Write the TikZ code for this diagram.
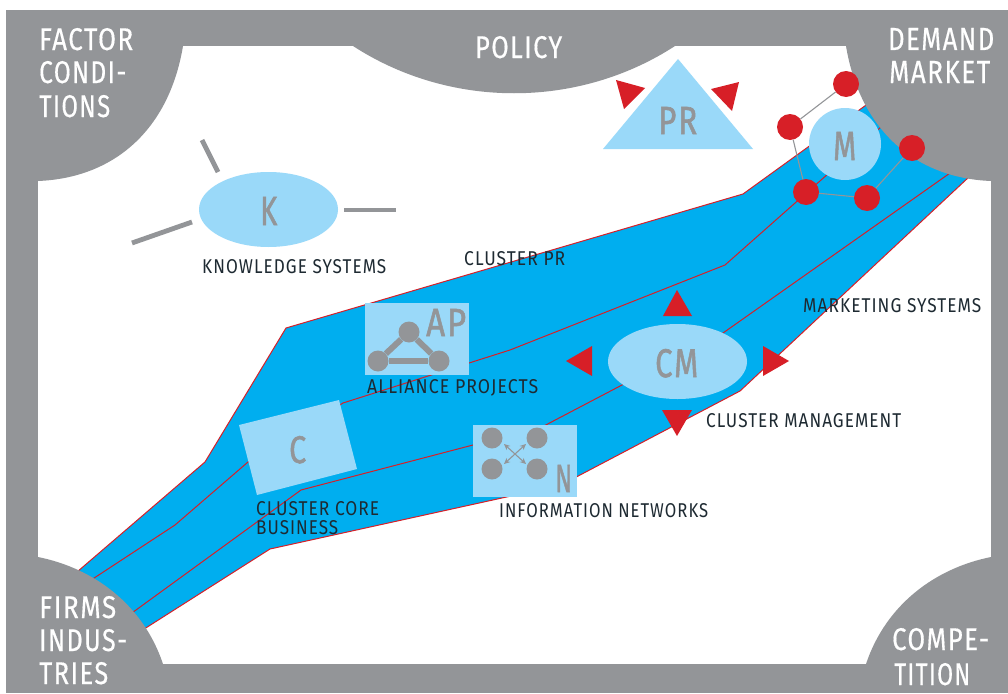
\documentclass[tikz,border=0pt]{standalone}
\usepackage{fontspec}
\usepackage{graphicx}
\setmainfont[LetterSpace=6]{Fira Sans}
\newfontfamily\medfont[LetterSpace=6,FakeBold=0.5]{Fira Sans}
\newfontfamily\heavyfont[LetterSpace=6,FakeBold=1.6]{Fira Sans}
\usetikzlibrary{arrows.meta,shapes.geometric}
\definecolor{framegray}{HTML}{939598}
\definecolor{bandblue}{HTML}{00AEEF}
\definecolor{paleblue}{HTML}{9AD9F9}
\definecolor{signalred}{HTML}{D71F27}
\definecolor{ink}{HTML}{1E2A32}
\tikzset{
  x=1pt,y=-1pt,
  lab/.style={anchor=base west,inner sep=0pt,text=ink},
  head/.style={anchor=base west,inner sep=0pt,text=white,font=\medfont},
  glyph/.style={anchor=base west,inner sep=0pt,text=framegray,font=\heavyfont},
  pale/.style={fill=paleblue,draw=none},
  redtri/.style={fill=signalred,draw=none},
  redline/.style={draw=signalred,line width=1pt,line join=round},
  dot/.style={circle,fill=signalred,draw=none,minimum size=26pt,inner sep=0pt},
  gdot/.style={circle,fill=framegray,draw=none,minimum size=21pt,inner sep=0pt},
  thinlink/.style={draw=framegray,line width=1.1pt},
  thicklink/.style={draw=framegray,line width=6pt},
  spoke/.style={draw=framegray,line width=4.8pt},
}
% width, height, text
\newcommand{\fitted}[3]{\resizebox{#1pt}{#2pt}{#3}}
\begin{document}
\begin{tikzpicture}
\useasboundingbox (0,0) rectangle (1008,693);
\fill[white] (0,0) rectangle (1008,693);
\fill[framegray] (6,10) rectangle (1008,693);
\fill[white] (38,46) rectangle (991,664);
% band
\fill[bandblue] (70,578) -- (205,462) -- (286,328) -- (743,194) -- (880,95)
  -- (985,162) -- (740,391) -- (561,485) -- (270,549) -- (130,638) -- cycle;
\draw[redline] (70,578) -- (205,462) -- (286,328) -- (743,194) -- (880,95);
\draw[redline] (985,162) -- (740,391) -- (561,485) -- (270,549) -- (130,638);
\draw[redline] (85,584) -- (175,525) -- (248,462) -- (343,403) -- (510,350) -- (725,265) -- (890,119);
\draw[redline] (125,618) -- (301,490) -- (473,445) -- (540,428) -- (622,385) -- (723,333) -- (960,166);
% corners
\fill[framegray] (30,38) -- (183,38) -- (183,46) .. controls (169,130) and (114,178) .. (38,181) -- (30,181) -- cycle;
\fill[framegray] (999,38) -- (846,38) -- (846,46) .. controls (860,130) and (915,178) .. (991,181) -- (999,181) -- cycle;
\fill[framegray] (30,672) -- (163,672) -- (163,664) .. controls (143,604) and (93,568) .. (38,557) -- (30,557) -- cycle;
\fill[framegray] (999,672) -- (866,672) -- (866,664) .. controls (886,604) and (936,568) .. (991,557) -- (999,557) -- cycle;
\fill[framegray] (353,40) -- (353,46) .. controls (450,109) and (578,109) .. (675,46) -- (675,40) -- cycle;
% K
\node[pale,ellipse,minimum width=139pt,minimum height=75pt,inner sep=0pt] (k) at (268.5,209.5) {};
\coordinate (ka1) at (202,140); \coordinate (ka2) at (218,172);
\coordinate (kb1) at (132,243); \coordinate (kb2) at (192,222);
\coordinate (kc1) at (344,210); \coordinate (kc2) at (396,210);
\draw[spoke] (ka1) -- (ka2);
\draw[spoke] (kb1) -- (kb2);
\draw[spoke] (kc1) -- (kc2);
% PR
\fill[pale] (678,59) -- (603,149) -- (753,149) -- cycle;
\fill[redtri] (616,80) -- (645,88) -- (624,109) -- cycle;
\fill[redtri] (711,89) -- (739,82) -- (732,111) -- cycle;
% C
\fill[pale] (239,425) -- (339,400) -- (357,469) -- (257,495) -- cycle;
% AP
\fill[pale] (365,303) rectangle (469,375);
\node[gdot] (ap1) at (409,332) {};
\node[gdot] (ap2) at (378,361) {};
\node[gdot] (ap3) at (439,361) {};
\draw[thicklink] (ap1) -- (ap2);
\draw[thicklink] (ap2) -- (ap3);
\draw[thicklink] (ap3) -- (ap1);
% N
\fill[pale] (473,425) rectangle (577,497);
\node[gdot] (n1) at (492,438) {};
\node[gdot] (n2) at (537,438) {};
\node[gdot] (n3) at (492,469) {};
\node[gdot] (n4) at (537,469) {};
\coordinate (na1) at (504,444); \coordinate (na2) at (526,464);
\coordinate (nb1) at (526,444); \coordinate (nb2) at (504,464);
\draw[thinlink,{Stealth[length=6pt,width=5.5pt]}-{Stealth[length=6pt,width=5.5pt]}] (na1) -- (na2);
\draw[thinlink,{Stealth[length=6pt,width=5.5pt]}-{Stealth[length=6pt,width=5.5pt]}] (nb1) -- (nb2);
% CM
\node[pale,ellipse,minimum width=139pt,minimum height=75pt,inner sep=0pt] (cm) at (677.5,361.5) {};
\fill[redtri] (677,290) -- (663,316) -- (692,316) -- cycle;
\fill[redtri] (566,361) -- (592,346) -- (592,376) -- cycle;
\fill[redtri] (789,361) -- (763,346) -- (763,376) -- cycle;
\fill[redtri] (662,410) -- (692,410) -- (677,436) -- cycle;
% M
\node[pale,circle,minimum size=72pt,inner sep=0pt] (m) at (845,144) {};
\node[dot] (r1) at (846,84) {};
\node[dot] (r2) at (790,127) {};
\node[dot] (r3) at (806,192) {};
\node[dot] (r4) at (867,198) {};
\node[dot] (r5) at (912,148) {};
\draw[thinlink] (r1) -- (r2);
\draw[thinlink] (r2) -- (r3);
\draw[thinlink] (r3) -- (r4);
\draw[thinlink] (r4) -- (r5);
% white headings
\node[head] (t1) at (39,50) {\fitted{94}{22}{FACTOR}};
\node[head] (t2) at (39,83) {\fitted{87}{22}{CONDI-}};
\node[head] (t3) at (39,117) {\fitted{71}{22}{TIONS}};
\node[head] (t4) at (888,50) {\fitted{106}{22}{DEMAND}};
\node[head] (t5) at (889,83) {\fitted{101}{22}{MARKET}};
\node[head] (t6) at (475,58) {\fitted{87}{22}{POLICY}};
\node[head] (t7) at (39,618) {\fitted{77}{22}{FIRMS}};
\node[head] (t8) at (39,651) {\fitted{88}{22}{INDUS-}};
\node[head] (t9) at (39,684) {\fitted{69}{22}{TRIES}};
\node[head] (t10) at (892,650) {\fitted{97}{22}{COMPE-}};
\node[head] (t11) at (894,685) {\fitted{76}{22}{TITION}};
% pale glyphs
\node[glyph] (g1) at (260,225) {\fitted{17}{28}{K}};
\node[glyph] (g2) at (658,134) {\fitted{39}{27}{PR}};
\node[glyph] (g3) at (289,463) {\fitted{17}{27}{C}};
\node[glyph] (g4) at (426,336) {\fitted{40}{27}{AP}};
\node[glyph] (g5) at (555,492) {\fitted{17}{27}{N}};
\node[glyph] (g6) at (655,377) {\fitted{43}{28}{CM}};
\node[glyph] (g7) at (833,160) {\fitted{23}{28}{M}};
% dark labels
\node[lab] (l1) at (202,273) {\fitted{184}{14}{KNOWLEDGE SYSTEMS}};
\node[lab] (l2) at (464,265) {\fitted{101}{14}{CLUSTER PR}};
\node[lab] (l3) at (367,393) {\fitted{171}{14}{ALLIANCE PROJECTS}};
\node[lab] (l4) at (256,515) {\fitted{123}{14}{CLUSTER CORE}};
\node[lab] (l5) at (256,534) {\fitted{82}{14}{BUSINESS}};
\node[lab] (l6) at (499,517) {\fitted{209}{14}{INFORMATION NETWORKS}};
\node[lab] (l7) at (803,312) {\fitted{178}{14}{MARKETING SYSTEMS}};
\node[lab] (l8) at (706,427) {\fitted{195}{14}{CLUSTER MANAGEMENT}};
\end{tikzpicture}
\end{document}
